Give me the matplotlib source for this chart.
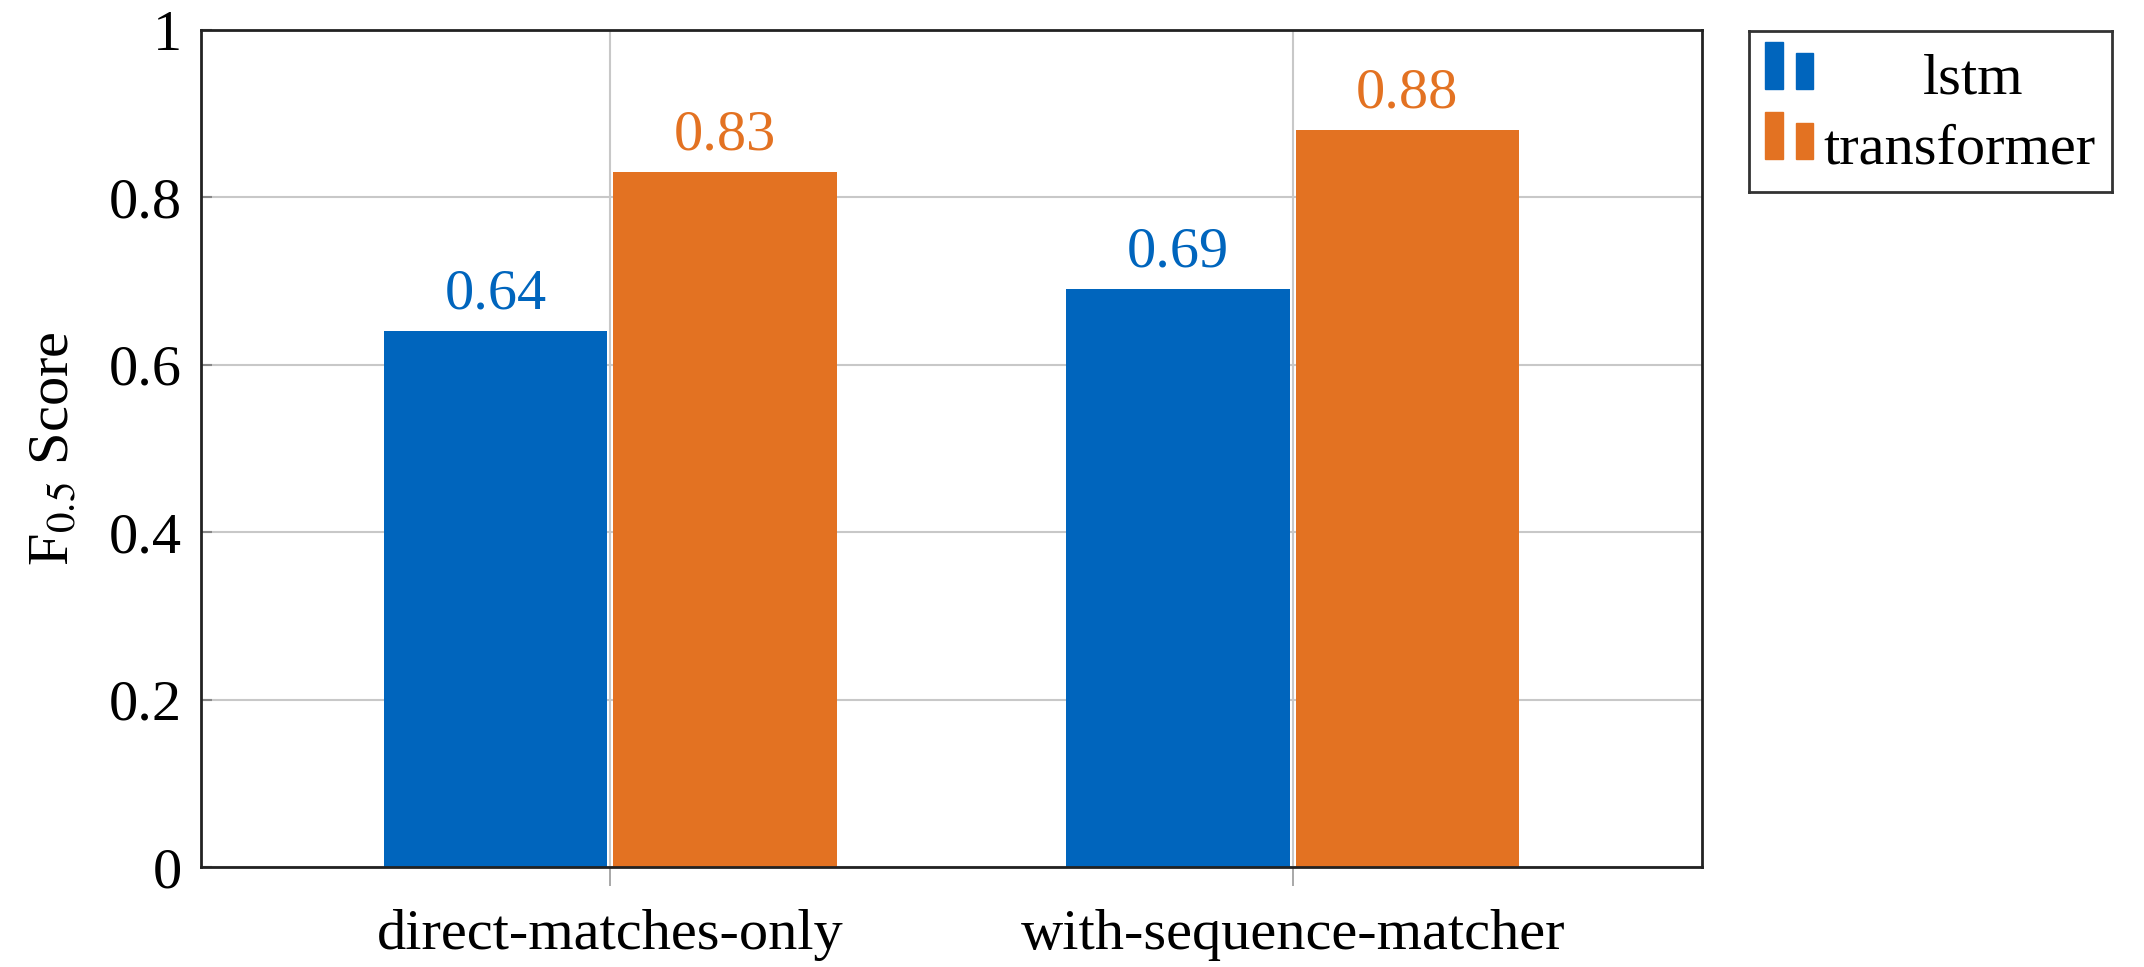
import matplotlib
matplotlib.use('Agg')
import matplotlib.pyplot as plt
from matplotlib.patches import Rectangle
import numpy as np

categories = ['direct-matches-only', 'with-sequence-matcher']
series = ['lstm', 'transformer']
lstm_scores = [0.64, 0.69]
transformer_scores = [0.83, 0.88]
yticks = [0, 0.2, 0.4, 0.6, 0.8, 1.0]
ytick_labels = ['0', '0.2', '0.4', '0.6', '0.8', '1']

blue = '#0065BD'
orange = '#E37222'

plt.rcParams['font.family'] = ['Liberation Serif', 'DejaVu Serif']
plt.rcParams['mathtext.fontset'] = 'stix'
fs = 42

fig = plt.figure(figsize=(21.44, 9.67), dpi=100)
ax = fig.add_axes([201 / 2144, 1 - 867 / 967, 1501 / 2144, 837 / 967])

x = np.arange(len(categories))
w = 0.327
off = 0.168
b1 = ax.bar(x - off, lstm_scores, w, color=blue, zorder=3)
b2 = ax.bar(x + off, transformer_scores, w, color=orange, zorder=3)

for bars, vals, c in [(b1, lstm_scores, blue), (b2, transformer_scores, orange)]:
    for r, v in zip(bars, vals):
        ax.annotate('%.2f' % v, (r.get_x() + r.get_width() / 2, v),
                    xytext=(0, 8), textcoords='offset points',
                    ha='center', va='bottom', color=c, fontsize=fs)

ax.set_xlim(-0.6, 1.6)
ax.set_ylim(0, 1)
ax.set_xticks(x)
ax.set_xticklabels(categories, fontsize=fs)
ax.set_yticks(yticks)
ax.set_yticklabels(ytick_labels, fontsize=fs)
ax.tick_params(axis='x', direction='out', length=14, width=1.2, color='#999999', pad=16)
ax.tick_params(axis='y', direction='in', length=8, width=1.5, color='#888888', pad=14)
ax.grid(True, color='#c8c8c8', linewidth=1.5, zorder=0)
ax.set_axisbelow(True)
for s in ax.spines.values():
    s.set_linewidth(2)
    s.set_color('#222222')
    s.set_zorder(4)
ax.set_ylabel(r'F$_{0.5}$ Score', fontsize=fs, labelpad=20)

# legend box drawn by hand (pgfplots style bar handles)
lg = fig.add_axes([1749 / 2144, 1 - 192 / 967, 363 / 2144, 161 / 967])
lg.set_xlim(0, 1)
lg.set_ylim(0, 1)
lg.set_xticks([])
lg.set_yticks([])
for s in lg.spines.values():
    s.set_linewidth(2)
    s.set_color('#333333')
for c, top, label, lx, ha in [(blue, 0.932, series[0], 0.617, 'center'),
                              (orange, 0.497, series[1], 0.205, 'left')]:
    h = 0.292
    lg.add_patch(Rectangle((0.044, top - h), 0.05, h, color=c))
    lg.add_patch(Rectangle((0.129, top - h), 0.047, h * 0.76, color=c))
    lg.text(lx, top - h / 2 - 0.09, label, ha=ha, va='center', fontsize=fs)

fig.savefig('out.png', dpi=100)
